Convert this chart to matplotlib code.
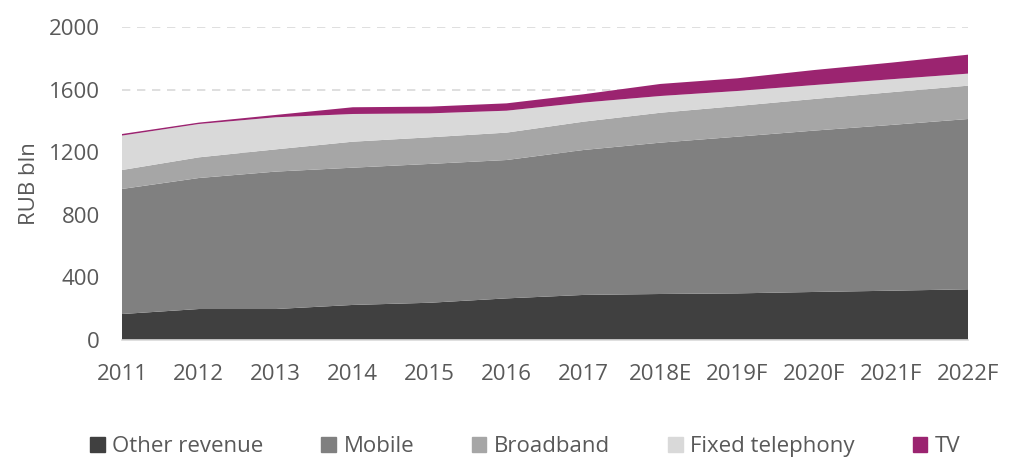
import numpy as np
import matplotlib.pyplot as plt

plt.rcParams['font.family'] = ['Open Sans', 'DejaVu Sans']

years = ['2011', '2012', '2013', '2014', '2015', '2016', '2017',
         '2018E', '2019F', '2020F', '2021F', '2022F']
other = [166, 198, 198, 224, 238, 266, 288, 294, 298, 307, 315, 324]
mobile = [799, 837, 878, 877, 887, 884, 926, 967, 1001, 1031, 1059, 1088]
broadband = [121, 132, 142, 166, 170, 175, 181, 191, 196, 202, 209, 213]
fixed = [220, 213, 205, 177, 153, 140, 122, 107, 96, 89, 83, 77]
tv = [10, 9, 15, 43, 43, 47, 53, 77, 81, 96, 106, 121]

labels = ['Other revenue', 'Mobile', 'Broadband', 'Fixed telephony', 'TV']
colors = ['#404040', '#808080', '#a6a6a6', '#d9d9d9', '#9b2470']
txt = '#595959'

fig = plt.figure(figsize=(10.16, 4.57), dpi=100)
ax = fig.add_axes([0.120, 0.256, 0.833, 0.685])

x = np.arange(len(years))
ax.stackplot(x, other, mobile, broadband, fixed, tv, colors=colors,
             labels=labels, linewidth=0)

ax.set_xlim(0, len(years) - 1)
ax.set_ylim(0, 2000)
ax.set_yticks(range(0, 2001, 400))
ax.set_xticks(x)
ax.set_xticklabels(years)
ax.tick_params(length=0, labelsize=16, colors=txt)
ax.tick_params(axis='x', pad=17)
ax.tick_params(axis='y', pad=16)
for s in ['top', 'right', 'left']:
    ax.spines[s].set_visible(False)
ax.spines['bottom'].set_color('#d9d9d9')
ax.spines['bottom'].set_linewidth(1.2)
ax.yaxis.grid(True, linestyle=(0, (5, 4)), color='#d9d9d9', linewidth=1.2)
ax.set_axisbelow(True)
ax.set_ylabel('RUB bln', fontsize=16, color=txt, labelpad=6)

handles = [plt.Rectangle((0, 0), 1, 1, color=c) for c in colors]
fig.legend(handles, labels, loc='center', bbox_to_anchor=(0.517, 0.022), ncol=5,
           frameon=False, fontsize=16, labelcolor=txt, handlelength=0.65,
           handleheight=0.65, handletextpad=0.35, columnspacing=2.6)

fig.savefig('out.png', dpi=100)
